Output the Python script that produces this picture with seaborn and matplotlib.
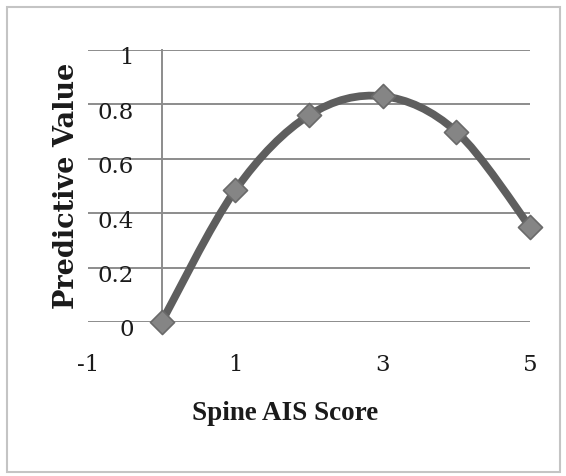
import matplotlib
matplotlib.use("Agg")
import matplotlib.pyplot as plt
import matplotlib.transforms as mtransforms
import seaborn as sns
import pandas as pd
import numpy as np
from matplotlib.path import Path
from matplotlib.patches import PathPatch, Rectangle

# ---- data ----
scores = [0, 1, 2, 3, 4, 5]
pred_values = [0.0, 0.485, 0.76, 0.83, 0.70, 0.35]
x_ticks = [-1, 1, 3, 5]
y_ticks = [0, 0.2, 0.4, 0.6, 0.8, 1]
y_tick_labels = ["0", "0.2", "0.4", "0.6", "0.8", "1"]
x_label = "Spine AIS Score"
y_label = "Predictive Value"

df = pd.DataFrame({"score": scores, "value": pred_values})

sns.set_theme(style="white")
plt.rcParams["font.family"] = ["DejaVu Serif"]

fig = plt.figure(figsize=(5.66, 4.76), dpi=100)
ax = fig.add_axes([88 / 566, 1 - 322 / 476, (530 - 88) / 566, (322 - 50) / 476])

# outer frame
fig.patches.append(Rectangle((7 / 566, 1 - 472 / 476), (560 - 7) / 566, (472 - 7) / 476,
                             transform=fig.transFigure, fill=False,
                             edgecolor="#c4c4c4", linewidth=1.5))

# smooth (Bezier) line through the points, as Excel's smoothed line
xs = np.array(scores, dtype=float)
ys = np.array(pred_values, dtype=float)
n = len(xs)
verts = [(xs[0], ys[0])]
codes = [Path.MOVETO]
t = 1 / 6
for i in range(n - 1):
    p0 = np.array([xs[max(i - 1, 0)], ys[max(i - 1, 0)]])
    p1 = np.array([xs[i], ys[i]])
    p2 = np.array([xs[i + 1], ys[i + 1]])
    p3 = np.array([xs[min(i + 2, n - 1)], ys[min(i + 2, n - 1)]])
    c1 = p1 + (p2 - p0) * t
    c2 = p2 - (p3 - p1) * t
    verts += [tuple(c1), tuple(c2), tuple(p2)]
    codes += [Path.CURVE4] * 3
patch = PathPatch(Path(verts, codes), fill=False, edgecolor="#5e5e5e",
                  linewidth=5.6, capstyle="round", joinstyle="round",
                  transform=ax.transData, zorder=3, clip_on=False)
ax.add_patch(patch)

sns.scatterplot(data=df, x="score", y="value", ax=ax, marker="D", s=150,
                color="#858585", edgecolor="#6a6a6a", linewidth=1.2,
                zorder=4, clip_on=False, legend=False)

ax.set_xlim(-1, 5)
ax.set_ylim(0, 1)
ax.set_xticks(x_ticks)
ax.set_xticklabels([str(v) for v in x_ticks])
ax.set_yticks(y_ticks)
ax.set_yticklabels(y_tick_labels)

ax.grid(axis="y", color="#8c8c8c", linewidth=1.4)
ax.grid(axis="x", visible=False)
ax.set_axisbelow(True)

for s in ["top", "right", "bottom"]:
    ax.spines[s].set_visible(False)
ax.spines["left"].set_position(("data", 0))
ax.spines["left"].set_color("#8c8c8c")
ax.spines["left"].set_linewidth(1.4)

ax.tick_params(axis="both", length=0, labelsize=16.5, colors="#1a1a1a")
ax.tick_params(axis="y", pad=20)
ax.tick_params(axis="x", pad=23)

shift = mtransforms.ScaledTranslation(0, -6 / 100, fig.dpi_scale_trans)
for lab in ax.get_yticklabels():
    lab.set_transform(lab.get_transform() + shift)

ax.set_xlabel("")
ax.set_ylabel("")
fig.text(285 / 566, 1 - 414 / 476, x_label, fontsize=19.5, fontweight="bold",
         family="Liberation Serif", ha="center", va="center", color="#1a1a1a")
fig.text(67 / 566, 1 - 186 / 476, y_label, rotation=90, fontsize=19.5,
         fontweight="bold", ha="center", va="center", color="#1a1a1a")

fig.savefig("out.png", dpi=100, facecolor="white")
